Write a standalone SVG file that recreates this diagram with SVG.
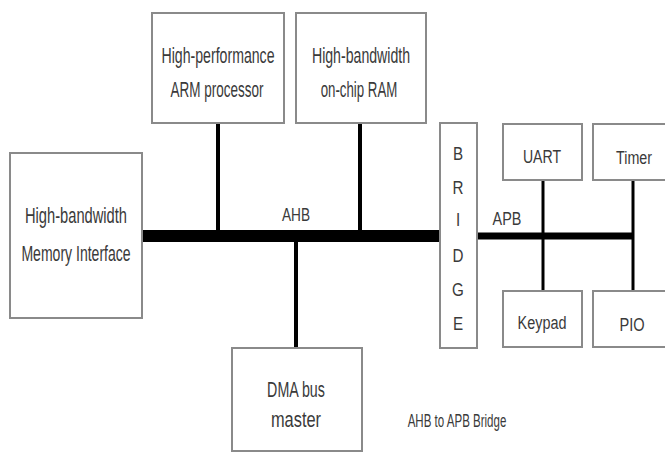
<svg xmlns="http://www.w3.org/2000/svg" width="665" height="454" viewBox="0 0 665 454">
<style>
.box{fill:#fff;stroke:#8a8a8a;stroke-width:2}
.t{font-family:"Liberation Sans",Arial,sans-serif;font-size:22px;fill:#3a3a3a;text-anchor:middle}
.s{font-family:"Liberation Sans",Arial,sans-serif;font-size:19px;fill:#3a3a3a;text-anchor:middle}
.bus{stroke:#000;fill:none}
</style>
<rect width="665" height="454" fill="#fff"/>
<g id="connectors">
<line class="bus" x1="142" y1="236" x2="440" y2="236" stroke-width="12"/>
<line class="bus" x1="218" y1="123" x2="218" y2="236" stroke-width="4"/>
<line class="bus" x1="360" y1="123" x2="360" y2="236" stroke-width="4"/>
<line class="bus" x1="296" y1="236" x2="296" y2="348" stroke-width="4"/>
<line class="bus" x1="477" y1="236" x2="634" y2="236" stroke-width="7"/>
<line class="bus" x1="543" y1="180" x2="543" y2="291" stroke-width="3"/>
<line class="bus" x1="633" y1="180" x2="633" y2="291" stroke-width="3"/>
<text class="s" transform="translate(296 0) scale(0.72 1)" y="221" textLength="39" lengthAdjust="spacingAndGlyphs">AHB</text>
<text class="s" transform="translate(507 0) scale(0.72 1)" y="225" textLength="40" lengthAdjust="spacingAndGlyphs">APB</text>
</g>
<g id="mem">
<rect class="box" x="10" y="153" width="132" height="165"/>
<text class="t" transform="translate(76 0) scale(0.65 1)" y="223" textLength="157" lengthAdjust="spacingAndGlyphs">High-bandwidth</text>
<text class="t" transform="translate(76 0) scale(0.65 1)" y="261" textLength="168" lengthAdjust="spacingAndGlyphs">Memory Interface</text>
</g>
<g id="arm">
<rect class="box" x="152" y="13" width="132" height="110"/>
<text class="t" transform="translate(218 0) scale(0.65 1)" y="63" textLength="174" lengthAdjust="spacingAndGlyphs">High-performance</text>
<text class="t" transform="translate(217 0) scale(0.65 1)" y="97" textLength="143" lengthAdjust="spacingAndGlyphs">ARM processor</text>
</g>
<g id="ram">
<rect class="box" x="296" y="13" width="130" height="110"/>
<text class="t" transform="translate(361 0) scale(0.65 1)" y="63" textLength="151" lengthAdjust="spacingAndGlyphs">High-bandwidth</text>
<text class="t" transform="translate(359 0) scale(0.65 1)" y="97" textLength="118" lengthAdjust="spacingAndGlyphs">on-chip RAM</text>
</g>
<g id="dma">
<rect class="box" x="232" y="348" width="130" height="103"/>
<text class="t" transform="translate(296 0) scale(0.65 1)" y="397" textLength="89" lengthAdjust="spacingAndGlyphs">DMA bus</text>
<text class="t" transform="translate(296 0) scale(0.65 1)" y="427" textLength="77" lengthAdjust="spacingAndGlyphs">master</text>
</g>
<g id="bridge">
<rect class="box" x="440" y="123" width="37" height="225"/>
<text class="s" transform="translate(458 0) scale(0.8 1)" y="160">B</text>
<text class="s" transform="translate(458 0) scale(0.8 1)" y="194">R</text>
<text class="s" transform="translate(458 0) scale(0.8 1)" y="226">I</text>
<text class="s" transform="translate(458 0) scale(0.8 1)" y="262">D</text>
<text class="s" transform="translate(458 0) scale(0.8 1)" y="296">G</text>
<text class="s" transform="translate(458 0) scale(0.8 1)" y="330">E</text>
</g>
<g id="uart">
<rect class="box" x="503" y="124" width="79" height="56"/>
<text class="s" transform="translate(542 0) scale(0.72 1)" y="163" textLength="53" lengthAdjust="spacingAndGlyphs">UART</text>
</g>
<g id="timer">
<rect class="box" x="593" y="124" width="82" height="56"/>
<text class="s" transform="translate(634 0) scale(0.72 1)" y="164" textLength="50" lengthAdjust="spacingAndGlyphs">Timer</text>
</g>
<g id="keypad">
<rect class="box" x="503" y="291" width="79" height="56"/>
<text class="s" transform="translate(542 0) scale(0.72 1)" y="329" textLength="68" lengthAdjust="spacingAndGlyphs">Keypad</text>
</g>
<g id="pio">
<rect class="box" x="593" y="291" width="82" height="56"/>
<text class="s" transform="translate(632 0) scale(0.72 1)" y="331" textLength="35" lengthAdjust="spacingAndGlyphs">PIO</text>
</g>
<g id="caption">
<text class="s" transform="translate(457 0) scale(0.72 1)" y="427" font-size="15" textLength="137" lengthAdjust="spacingAndGlyphs">AHB to APB Bridge</text>
</g>
</svg>
